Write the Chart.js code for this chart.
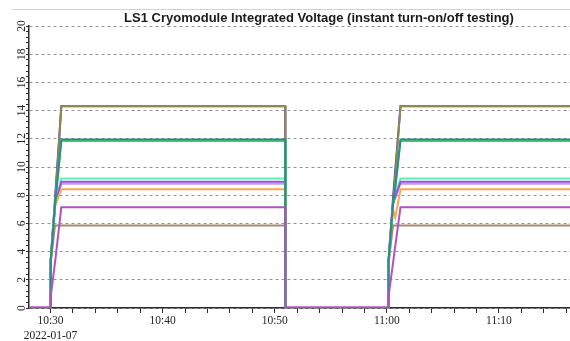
<!DOCTYPE html>
<html>
<head>
<meta charset="utf-8">
<title>LS1 Cryomodule Integrated Voltage</title>
<script src="https://cdn.jsdelivr.net/npm/chart.js@4.4.1/dist/chart.umd.min.js"></script>
<style>
    html, body { margin: 0; padding: 0; background: #fff; }
    #wrap { width: 570px; height: 341px; }
</style>
</head>
<body>
<div id="wrap"><canvas id="voltage-chart" width="570" height="341"></canvas></div>
<script>
const chartTitle = 'LS1 Cryomodule Integrated Voltage (instant turn-on/off testing)';
const chartDate = '2022-01-07';

// sample times (hh:mm:ss), shared by every signal
const sampleTimes = ['10:28:00', '10:30:00', '10:30:01', '10:30:24', '10:30:58', '10:50:56', '10:50:57',
    '11:00:08', '11:00:09', '11:00:33', '11:00:45', '11:01:13', '11:17:00'];

// integrated voltage of each signal at those times
const purpleVolts     = [0.05, 0.05, 0.8, 3.2, 7.15, 7.15, 0.05, 0.05, 0.8, 3.2, 4.4, 7.15, 7.15];
const tealVolts       = [0, 0, 3.3, 7.3, 11.95, 11.95, 0, 0, 3.3, 7.4, 8.6, 11.95, 11.95];
const greenVolts      = [0, 0, 3.2, 7.2, 11.85, 11.85, 0, 0, 3.2, 7.3, 8.5, 11.85, 11.85];
const brownVolts      = [0, 0, 3.2, 5.85, 5.85, 5.85, 0, 0, 3.2, 5.85, 5.85, 5.85, 5.85];
const orangeVolts     = [0, 0, 3.2, 7.2, 8.42, 8.42, 0, 0, 3.0, 7.0, 6.4, 8.42, 8.42];
const violetVolts     = [0, 0, 3.3, 7.3, 8.95, 8.95, 0, 0, 3.3, 7.4, 7.9, 8.95, 8.95];
const lilacVolts      = [0, 0, 3.3, 7.3, 8.82, 8.82, 0, 0, 3.3, 7.4, 7.8, 8.82, 8.82];
const aquaVolts       = [0, 0, 3.3, 7.3, 9.18, 9.18, 0, 0, 3.3, 7.4, 8.0, 9.18, 9.18];
const oliveVolts      = [0, 0, 3.3, 7.3, 14.33, 14.33, 0, 0, 3.3, 7.4, 9.4, 14.33, 14.33];
const indigoVolts     = [0, 0, 3.4, 7.7, 14.3, 14.3, 0, 0, 3.4, 7.8, 9.8, 14.3, 14.3];

// first one is drawn on top
const seriesValues = [purpleVolts, tealVolts, greenVolts, brownVolts, orangeVolts,
    violetVolts, lilacVolts, aquaVolts, oliveVolts, indigoVolts];
const seriesColors = ['#b052c0', '#2a8c8c', '#44d84a', '#a8896e', '#ffa552',
    '#9650ee', '#c898f0', '#5ff0b6', '#8c8a4e', '#5a34b0'];

const yTicksMajor = 2;
const yTicksMinor = 0.4;
const xTicksMajor = 10;
const xTicksMinor = 2;
const xStart = '10:28:05';
const xEnd = '11:16:20';

function toMinutes(hms) {
    const parts = hms.split(':').map(Number);
    return parts[0] * 60 + parts[1] + parts[2] / 60;
}

function formatClock(minutes) {
    const h = Math.floor(minutes / 60);
    const m = Math.round(minutes - h * 60);
    return `${h}:${m.toString().padStart(2, '0')}`;
}

function isMultiple(v, step) {
    return Math.abs(v / step - Math.round(v / step)) < 1e-6;
}

const sampleMinutes = sampleTimes.map(toMinutes);
const firstLabel = Math.ceil(toMinutes(xStart) / xTicksMajor) * xTicksMajor;

// title and the thin frame line above it
const titlePlugin = {
    id: 'titleAndFrame',
    beforeDraw(chart) {
        const ctx = chart.ctx;
        ctx.save();
        ctx.strokeStyle = '#d2d2d2';
        ctx.lineWidth = 1;
        ctx.beginPath();
        ctx.moveTo(12, 9.5);
        ctx.lineTo(chart.width, 9.5);
        ctx.stroke();
        ctx.restore();
    },
    afterDraw(chart) {
        const ctx = chart.ctx;
        ctx.save();
        ctx.font = 'bold 13px "Liberation Sans", Arial, sans-serif';
        ctx.fillStyle = '#1a1a1a';
        ctx.textAlign = 'center';
        ctx.textBaseline = 'alphabetic';
        ctx.fillText(chartTitle, 319, 22);
        ctx.restore();
    }
};

const tickFont = { family: '"Liberation Serif", "Times New Roman", serif', size: 11.5, lineHeight: 1.25 };

new Chart(document.getElementById('voltage-chart').getContext('2d'), {
    type: 'line',
    data: {
        datasets: seriesValues.map((values, i) => ({
            data: values.map((v, j) => ({ x: sampleMinutes[j], y: v })),
            borderColor: seriesColors[i],
            borderWidth: 2,
            pointRadius: 0,
            tension: 0,
            fill: false
        }))
    },
    options: {
        responsive: false,
        animation: false,
        layout: { padding: { top: 26, left: 0, right: 0, bottom: 0 } },
        plugins: {
            legend: { display: false },
            title: { display: false },
            tooltip: { enabled: false }
        },
        scales: {
            x: {
                type: 'linear',
                min: toMinutes(xStart),
                max: toMinutes(xEnd),
                afterFit: scale => { scale.height = 33; },
                border: { color: '#2a2a2a', width: 1.5 },
                grid: { drawOnChartArea: false, drawTicks: true, tickLength: 5, tickColor: '#2a2a2a', tickWidth: 1 },
                ticks: {
                    stepSize: xTicksMinor,
                    includeBounds: false,
                    autoSkip: false,
                    maxRotation: 0,
                    minRotation: 0,
                    padding: 1,
                    color: '#222',
                    font: tickFont,
                    callback: value => {
                        if (!isMultiple(value, xTicksMajor)) return '';
                        if (Math.abs(value - firstLabel) < 1e-6) return [formatClock(value), chartDate];
                        return formatClock(value);
                    }
                }
            },
            y: {
                min: 0,
                max: 20,
                afterFit: scale => { scale.width = 29; },
                border: { color: '#2a2a2a', width: 1.5, dash: [3, 3] },
                grid: {
                    color: c => isMultiple(c.tick.value, yTicksMajor) ? '#949494' : 'transparent',
                    lineWidth: 1,
                    tickLength: 3,
                    tickColor: '#2a2a2a',
                    tickWidth: 1
                },
                ticks: {
                    stepSize: yTicksMinor,
                    autoSkip: false,
                    minRotation: 90,
                    maxRotation: 90,
                    crossAlign: 'center',
                    padding: -2,
                    color: '#222',
                    font: tickFont,
                    callback: value => isMultiple(value, yTicksMajor) ? String(Math.round(value)) : ''
                }
            }
        }
    },
    plugins: [titlePlugin]
});
</script>
</body>
</html>
